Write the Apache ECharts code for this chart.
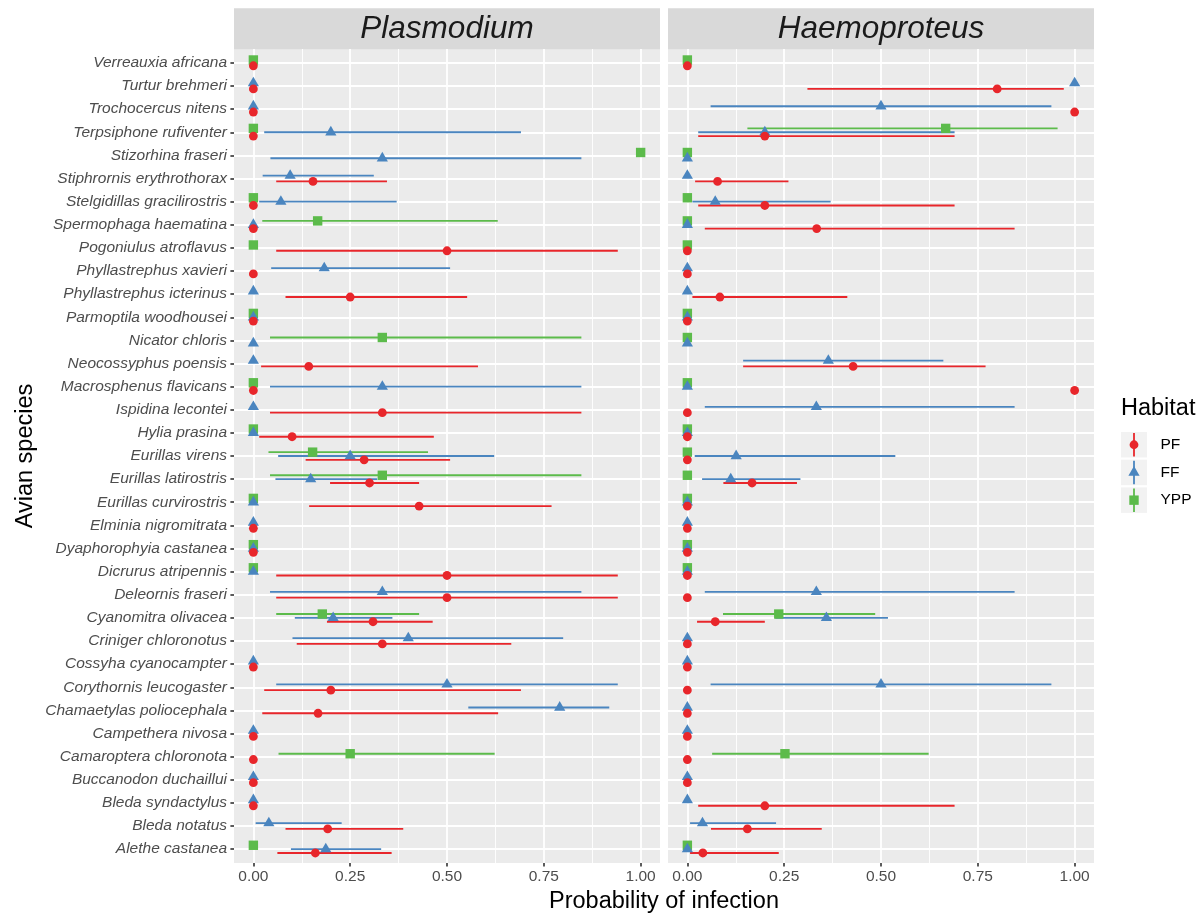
<!DOCTYPE html>
<html><head><meta charset="utf-8">
<script src="https://cdn.jsdelivr.net/npm/echarts@6/dist/echarts.min.js"></script>
<style>html,body{margin:0;padding:0;background:#fff}#c{width:1202px;height:913px}</style>
</head><body><div id="c"></div>
<script>
// ---------------- data ----------------
const species = [
  'Verreauxia africana','Turtur brehmeri','Trochocercus nitens','Terpsiphone rufiventer',
  'Stizorhina fraseri','Stiphrornis erythrothorax','Stelgidillas gracilirostris','Spermophaga haematina',
  'Pogoniulus atroflavus','Phyllastrephus xavieri','Phyllastrephus icterinus','Parmoptila woodhousei',
  'Nicator chloris','Neocossyphus poensis','Macrosphenus flavicans','Ispidina lecontei',
  'Hylia prasina','Eurillas virens','Eurillas latirostris','Eurillas curvirostris',
  'Elminia nigromitrata','Dyaphorophyia castanea','Dicrurus atripennis','Deleornis fraseri',
  'Cyanomitra olivacea','Criniger chloronotus','Cossyha cyanocampter','Corythornis leucogaster',
  'Chamaetylas poliocephala','Campethera nivosa','Camaroptera chloronota','Buccanodon duchaillui',
  'Bleda syndactylus','Bleda notatus','Alethe castanea'
];
const habitats = ['PF','FF','YPP'];
const panels = ['Plasmodium','Haemoproteus'];
const xTicks = [0, 0.25, 0.5, 0.75, 1];
const xTickLabels = ['0.00','0.25','0.50','0.75','1.00'];
const xMinorTicks = [0.125, 0.375, 0.625, 0.875];

// each entry: [estimate, lower, upper]  (null = habitat not sampled)
const plasPF = [
  [0],[0],[0],[0],null,[0.154,0.059,0.345],[0],[0],[0.5,0.059,0.941],[0],
  [0.25,0.083,0.552],[0],null,[0.143,0.020,0.580],[0],[0.333,0.043,0.847],[0.1,0.015,0.466],
  [0.286,0.135,0.508],[0.3,0.198,0.428],[0.428,0.144,0.770],[0],[0],[0.5,0.059,0.941],
  [0.5,0.059,0.941],[0.309,0.190,0.463],[0.333,0.112,0.666],[0],[0.2,0.028,0.691],
  [0.167,0.023,0.632],[0],[0],[0],[0],[0.192,0.083,0.387],[0.160,0.062,0.357]
];
const plasFF = [
  null,[0],[0],[0.2,0.028,0.691],[0.333,0.044,0.847],[0.095,0.024,0.311],[0.071,0.015,0.370],
  [0],null,[0.183,0.046,0.508],[0],[0],[0],[0],[0.333,0.043,0.847],[0],[0],
  [0.25,0.064,0.622],[0.148,0.057,0.320],[0],[0],[0],[0],[0.333,0.043,0.847],
  [0.206,0.107,0.359],[0.4,0.101,0.8],[0],[0.5,0.059,0.941],[0.791,0.555,0.919],[0],
  null,[0],[0],[0.04,0.006,0.228],[0.187,0.097,0.330]
];
const plasYPP = [
  [0],null,null,[0],[1],null,[0],[0.166,0.023,0.631],[0],null,null,[0],
  [0.333,0.043,0.847],null,[0],null,[0],[0.153,0.039,0.451],[0.333,0.043,0.847],[0],
  null,[0],[0],null,[0.178,0.059,0.428],null,null,null,null,null,[0.25,0.065,0.623],
  null,null,null,[0]
];
const haemPF = [
  [0],[0.8,0.31,0.972],[1],[0.2,0.028,0.69],null,[0.078,0.02,0.261],[0.2,0.028,0.69],
  [0.334,0.045,0.845],[0],[0],[0.084,0.013,0.413],[0],null,[0.428,0.144,0.770],[1],[0],[0],
  [0],[0.167,0.093,0.283],[0],[0],[0],[0],[0],[0.072,0.025,0.2],[0],[0],[0],[0],[0],[0],[0],
  [0.2,0.028,0.69],[0.155,0.061,0.347],[0.04,0.007,0.236]
];
const haemFF = [
  null,[1],[0.5,0.06,0.94],[0.2,0.028,0.69],[0],[0],[0.072,0.013,0.37],[0],null,[0],[0],[0],
  [0],[0.364,0.144,0.661],[0],[0.333,0.045,0.845],[0],[0.126,0.019,0.537],[0.112,0.038,0.292],
  [0],[0],[0],[0],[0.333,0.045,0.845],[0.359,0.227,0.518],[0],[0],[0.5,0.06,0.94],[0],[0],
  null,[0],[0],[0.039,0.007,0.229],[0]
];
const haemYPP = [
  [0],null,null,[0.667,0.155,0.956],[0],null,[0],[0],[0],null,null,[0],[0],null,[0],null,[0],
  [0],[0],[0],null,[0],[0],null,[0.236,0.092,0.485],null,null,null,null,null,[0.252,0.064,0.623],
  null,null,null,[0]
];

// ---------------- chart ----------------
const panelData = [
  {PF: plasPF, FF: plasFF, YPP: plasYPP},
  {PF: haemPF, FF: haemFF, YPP: haemYPP}
];
const colors = {PF:'#E8262B', FF:'#4A85BF', YPP:'#5CBB4B'};
const dodgeWidth = 0.5;
const FONT = '"Liberation Sans", Arial, Helvetica, sans-serif';

function dodge(panel, i, hab) {
  const present = habitats.filter(h => panel[h][i] !== null);
  const n = present.length, k = present.indexOf(hab);
  return dodgeWidth / 2 - dodgeWidth / (2 * n) - k * dodgeWidth / n;
}

const gridTop = 49, gridH = 814, gridW = 426;
const gridLefts = [234, 668];

const grids = gridLefts.map(l => ({
  left: l, top: gridTop, width: gridW, height: gridH,
  show: true, backgroundColor: '#EBEBEB', borderWidth: 0
}));

const xAxes = [], yAxes = [];
gridLefts.forEach((l, g) => {
  xAxes.push({
    type: 'value', gridIndex: g, min: -0.05, max: 1.05, position: 'bottom',
    axisLine: {show: false, onZero: false},
    axisTick: {show: true, length: 3.6, customValues: xTicks, lineStyle: {color: '#333333', width: 1.6}},
    axisLabel: {customValues: xTicks, margin: 6, color: '#4D4D4D', fontSize: 15.5, fontFamily: FONT,
      formatter: v => xTickLabels[xTicks.indexOf(v)]},
    splitLine: {show: true, lineStyle: {color: '#FFFFFF', width: 1.8}}
  });
  xAxes.push({
    type: 'value', gridIndex: g, min: -0.05, max: 1.05, position: 'bottom',
    axisLine: {show: false, onZero: false},
    axisTick: {show: false, customValues: xMinorTicks},
    axisLabel: {show: false, customValues: xMinorTicks},
    splitLine: {show: true, lineStyle: {color: '#FFFFFF', width: 0.9}},
    z: 0
  });
  yAxes.push({
    type: 'value', gridIndex: g, min: -0.6, max: species.length - 0.4, inverse: true, position: 'left',
    axisLine: {show: false, onZero: false},
    axisTick: {show: g === 0, length: 3.6, customValues: species.map((s, i) => i), lineStyle: {color: '#333333', width: 1.6}},
    axisLabel: {show: g === 0, customValues: species.map((s, i) => i), margin: 7, color: '#4D4D4D',
      fontSize: 15.5, fontStyle: 'italic', fontFamily: FONT, formatter: v => species[v]},
    splitLine: {show: true, lineStyle: {color: '#FFFFFF', width: 1.8}}
  });
});

const series = [];
// error bars first (drawn beneath all points)
panelData.forEach((pd, g) => {
  habitats.forEach(h => {
    const data = [];
    pd[h].forEach((v, i) => {
      if (v && v.length === 3) data.push([v[0], i, dodge(pd, i, h), v[1], v[2]]);
    });
    series.push({
      type: 'custom', name: h + ' range', xAxisIndex: g * 2, yAxisIndex: g, z: 2,
      encode: {x: 0, y: 1}, data,
      renderItem: (params, api) => {
        const y = api.value(1) + api.value(2);
        const a = api.coord([api.value(3), y]);
        const b = api.coord([api.value(4), y]);
        return {type: 'line', shape: {x1: a[0], y1: a[1], x2: b[0], y2: b[1]},
          style: {stroke: colors[h], lineWidth: 1.8}};
      }
    });
  });
});
// points
const drawOrder = ['YPP', 'FF', 'PF'];
panelData.forEach((pd, g) => {
  drawOrder.forEach((h, k) => {
    const data = [];
    pd[h].forEach((v, i) => { if (v) data.push([v[0], i, dodge(pd, i, h)]); });
    series.push({
      type: 'custom', name: h, xAxisIndex: g * 2, yAxisIndex: g, z: 3 + k,
      encode: {x: 0, y: 1}, data, clip: false,
      renderItem: (params, api) => {
        const c = api.coord([api.value(0), api.value(1) + api.value(2)]);
        const fill = colors[h];
        if (h === 'PF') return {type: 'circle', shape: {cx: c[0], cy: c[1], r: 4.4}, style: {fill}};
        if (h === 'YPP') return {type: 'rect', shape: {x: c[0] - 4.7, y: c[1] - 4.7, width: 9.4, height: 9.4}, style: {fill}};
        return {type: 'polygon', shape: {points: [[c[0], c[1] - 6.4], [c[0] + 5.6, c[1] + 3.2], [c[0] - 5.6, c[1] + 3.2]]}, style: {fill}};
      }
    });
  });
});

// strips, titles, legend
const graphic = [];
gridLefts.forEach((l, g) => {
  graphic.push({type: 'rect', left: l, top: 8.3, shape: {x: 0, y: 0, width: gridW, height: 41}, style: {fill: '#D9D9D9'}, silent: true});
  graphic.push({type: 'text', x: l + gridW / 2, y: 29.5, style: {text: panels[g], fill: '#1A1A1A',
    font: 'italic 31.5px ' + FONT, textAlign: 'center', textVerticalAlign: 'middle'}});
});
graphic.push({type: 'text', x: 664, y: 901.5, style: {text: 'Probability of infection', fill: '#000',
  font: '23.5px ' + FONT, textAlign: 'center', textVerticalAlign: 'middle'}});
graphic.push({type: 'text', x: 26, y: 456, rotation: Math.PI / 2, style: {text: 'Avian species', fill: '#000',
  font: '23.5px ' + FONT, textAlign: 'center', textVerticalAlign: 'middle'}});
graphic.push({type: 'text', x: 1121, y: 409, style: {text: 'Habitat', fill: '#000',
  font: '23.5px ' + FONT, textAlign: 'left', textVerticalAlign: 'middle'}});
habitats.forEach((h, k) => {
  const top = 432 + k * 27.7, cx = 1134, cy = top + 12.75;
  graphic.push({type: 'rect', shape: {x: 1121, y: top, width: 26, height: 25.5}, style: {fill: '#F2F2F2'}});
  graphic.push({type: 'line', shape: {x1: cx, y1: top + 1, x2: cx, y2: top + 24.5}, style: {stroke: colors[h], lineWidth: 1.8}});
  let sym;
  if (h === 'PF') sym = {type: 'circle', shape: {cx, cy, r: 4.4}, style: {fill: colors[h]}};
  else if (h === 'YPP') sym = {type: 'rect', shape: {x: cx - 4.7, y: cy - 4.7, width: 9.4, height: 9.4}, style: {fill: colors[h]}};
  else sym = {type: 'polygon', shape: {points: [[cx, cy - 6.4], [cx + 5.6, cy + 3.2], [cx - 5.6, cy + 3.2]]}, style: {fill: colors[h]}};
  graphic.push(sym);
  graphic.push({type: 'text', x: 1160.5, y: cy, style: {text: h, fill: '#000', font: '15.5px ' + FONT,
    textAlign: 'left', textVerticalAlign: 'middle'}});
});

const chart = echarts.init(document.getElementById('c'), null, {renderer: 'canvas'});
chart.setOption({
  animation: false,
  backgroundColor: '#FFFFFF',
  textStyle: {fontFamily: FONT},
  grid: grids, xAxis: xAxes, yAxis: yAxes, series, graphic
});
</script></body></html>
